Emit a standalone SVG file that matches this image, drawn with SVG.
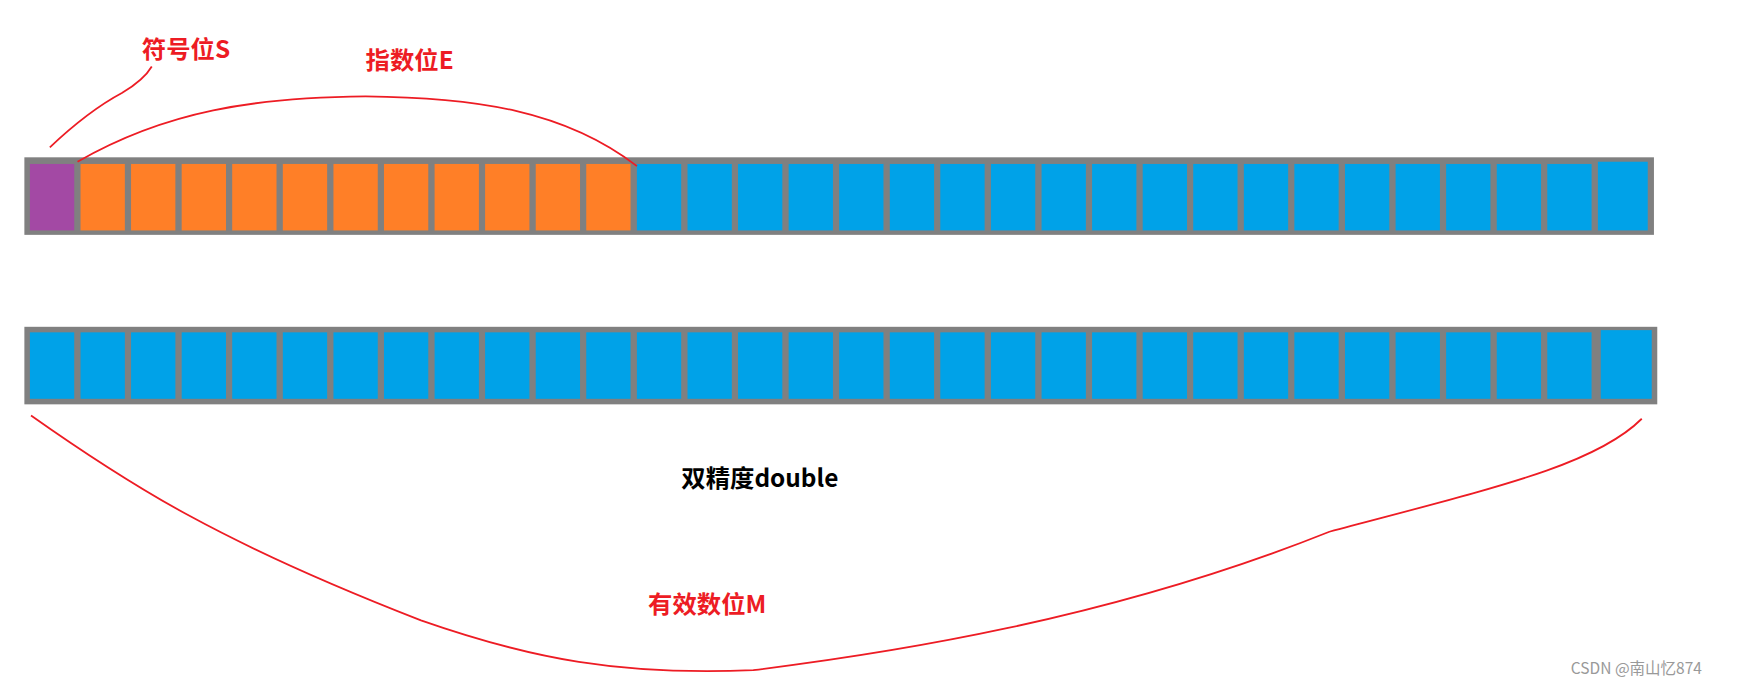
<svg xmlns="http://www.w3.org/2000/svg" width="1737" height="685" viewBox="0 0 1737 685">
<style>
.bar{fill:#808080}
.s{fill:#a349a4}.e{fill:#ff7f27}.m{fill:#00a2e8}
.red{fill:none;stroke:#ed1c24;stroke-width:1.6}
.lbl{font-family:"Noto Sans CJK SC","Noto Sans",sans-serif;font-weight:bold;font-size:22px}
</style>
<rect width="1737" height="685" fill="#fff"/>
<g transform="scale(1.1078)">
<g id="row1">
<rect class="bar" x="22" y="142" width="1471" height="70"/>
<g id="cells1">
<rect class="s" x="27" y="148" width="40" height="60"/>
<rect class="e" x="72.7" y="148" width="40" height="60"/><rect class="e" x="118.3" y="148" width="40" height="60"/><rect class="e" x="164" y="148" width="40" height="60"/><rect class="e" x="209.6" y="148" width="40" height="60"/><rect class="e" x="255.3" y="148" width="40" height="60"/><rect class="e" x="301" y="148" width="40" height="60"/><rect class="e" x="346.6" y="148" width="40" height="60"/><rect class="e" x="392.3" y="148" width="40" height="60"/><rect class="e" x="437.9" y="148" width="40" height="60"/><rect class="e" x="483.6" y="148" width="40" height="60"/><rect class="e" x="529.2" y="148" width="40" height="60"/>
<rect class="m" x="574.9" y="148" width="40" height="60"/><rect class="m" x="620.6" y="148" width="40" height="60"/><rect class="m" x="666.2" y="148" width="40" height="60"/><rect class="m" x="711.9" y="148" width="40" height="60"/><rect class="m" x="757.5" y="148" width="40" height="60"/><rect class="m" x="803.2" y="148" width="40" height="60"/><rect class="m" x="848.8" y="148" width="40" height="60"/><rect class="m" x="894.5" y="148" width="40" height="60"/><rect class="m" x="940.2" y="148" width="40" height="60"/><rect class="m" x="985.8" y="148" width="40" height="60"/><rect class="m" x="1031.5" y="148" width="40" height="60"/><rect class="m" x="1077.1" y="148" width="40" height="60"/><rect class="m" x="1122.8" y="148" width="40" height="60"/><rect class="m" x="1168.4" y="148" width="40" height="60"/><rect class="m" x="1214.1" y="148" width="40" height="60"/><rect class="m" x="1259.8" y="148" width="40" height="60"/><rect class="m" x="1305.4" y="148" width="40" height="60"/><rect class="m" x="1351.1" y="148" width="40" height="60"/><rect class="m" x="1396.7" y="148" width="40" height="60"/><rect class="m" x="1442.4" y="146" width="45" height="62"/>
</g>
</g>
<g id="row2">
<rect class="bar" x="22" y="295" width="1474" height="70"/>
<g id="cells2" transform="translate(0,152)">
<rect class="m" x="27" y="148" width="40" height="60"/><rect class="m" x="72.7" y="148" width="40" height="60"/><rect class="m" x="118.3" y="148" width="40" height="60"/><rect class="m" x="164" y="148" width="40" height="60"/><rect class="m" x="209.6" y="148" width="40" height="60"/><rect class="m" x="255.3" y="148" width="40" height="60"/><rect class="m" x="301" y="148" width="40" height="60"/><rect class="m" x="346.6" y="148" width="40" height="60"/><rect class="m" x="392.3" y="148" width="40" height="60"/><rect class="m" x="437.9" y="148" width="40" height="60"/><rect class="m" x="483.6" y="148" width="40" height="60"/><rect class="m" x="529.2" y="148" width="40" height="60"/>
<rect class="m" x="574.9" y="148" width="40" height="60"/><rect class="m" x="620.6" y="148" width="40" height="60"/><rect class="m" x="666.2" y="148" width="40" height="60"/><rect class="m" x="711.9" y="148" width="40" height="60"/><rect class="m" x="757.5" y="148" width="40" height="60"/><rect class="m" x="803.2" y="148" width="40" height="60"/><rect class="m" x="848.8" y="148" width="40" height="60"/><rect class="m" x="894.5" y="148" width="40" height="60"/><rect class="m" x="940.2" y="148" width="40" height="60"/><rect class="m" x="985.8" y="148" width="40" height="60"/><rect class="m" x="1031.5" y="148" width="40" height="60"/><rect class="m" x="1077.1" y="148" width="40" height="60"/><rect class="m" x="1122.8" y="148" width="40" height="60"/><rect class="m" x="1168.4" y="148" width="40" height="60"/><rect class="m" x="1214.1" y="148" width="40" height="60"/><rect class="m" x="1259.8" y="148" width="40" height="60"/><rect class="m" x="1305.4" y="148" width="40" height="60"/><rect class="m" x="1351.1" y="148" width="40" height="60"/><rect class="m" x="1396.7" y="148" width="40" height="60"/><rect class="m" x="1445" y="146" width="46" height="62"/>
</g>
</g>
<g id="connectors">
<path class="red" d="M45 133 Q80 100 110 84 Q130 72 137 60"/>
<path class="red" d="M70 146 C150 100 230 88 330 87 C430 88 510 100 575 150"/>
<path class="red" d="M28 375 C120 440 200 490 380 560 C480 595 560 610 680 605 C800 590 1000 560 1200 480 C1350 440 1440 420 1482 378"/>
</g>
<g id="labels">
<text class="lbl" x="128" y="52" fill="#ed1c24">符号位S</text>
<text class="lbl" x="330" y="62" fill="#ed1c24">指数位E</text>
<text class="lbl" x="615" y="440" fill="#000">双精度double</text>
<text class="lbl" x="585" y="553" fill="#ed1c24">有效数位M</text>
<text x="1418" y="608" font-family="Noto Sans CJK SC,sans-serif" font-size="14" fill="#999">CSDN @南山忆874</text>
</g>
</g>
</svg>
